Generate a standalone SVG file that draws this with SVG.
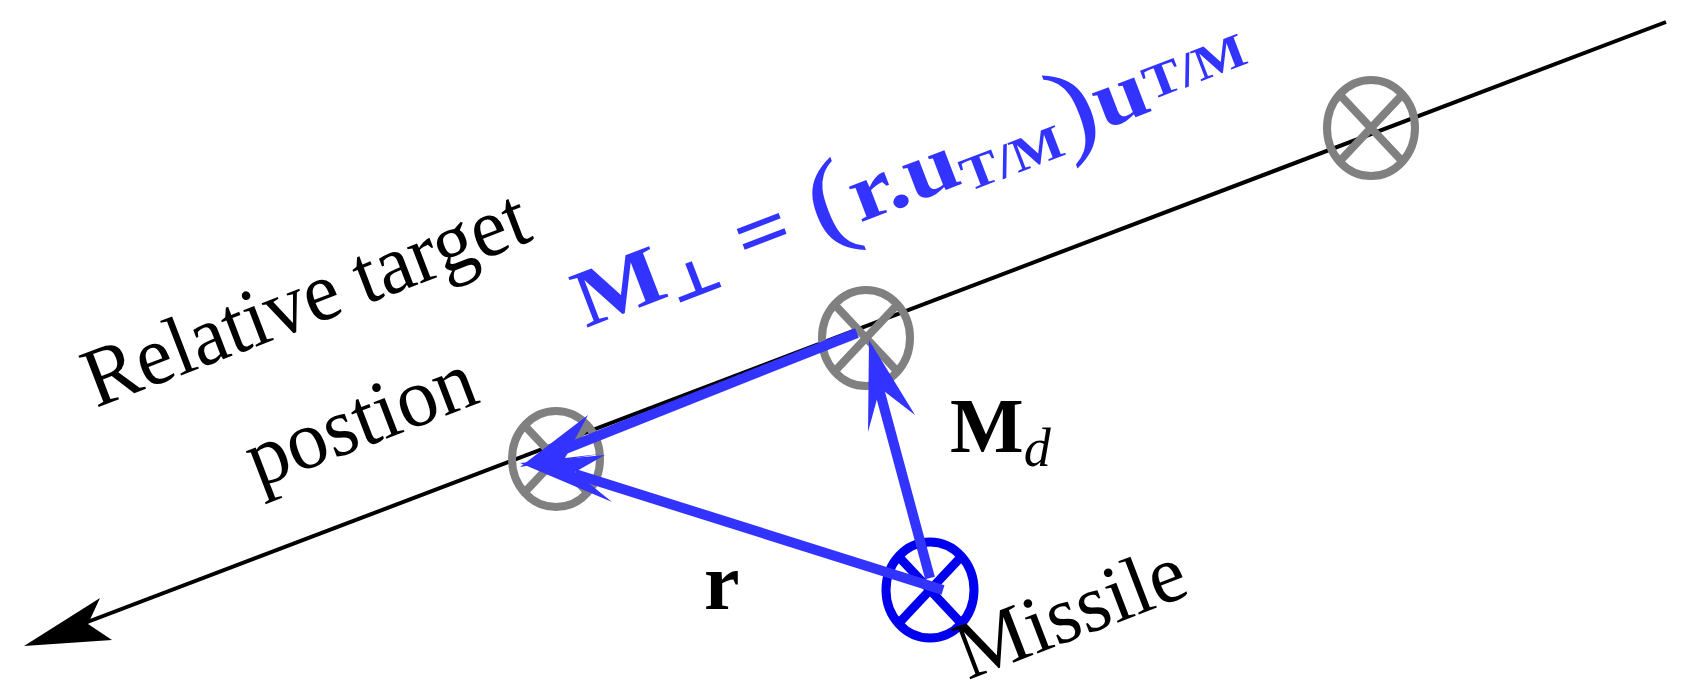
<svg xmlns="http://www.w3.org/2000/svg" width="1682" height="699" viewBox="0 0 1682 699">
<style>
.t{font-family:"Liberation Serif","DejaVu Serif",serif;fill:#000}
.f{font-family:"Liberation Serif","DejaVu Serif",serif;fill:#3333ff;font-weight:bold}
.g{fill:none;stroke:#808080;stroke-width:8}
.b{stroke:#3333ff;stroke-width:10;fill:none}
</style>
<g id="connectors">
<line x1="1666" y1="22" x2="40" y2="640" stroke="#000" stroke-width="4"/>
<path d="M24,646 L100,598 L88,624 L112,640 Z" fill="#000"/>
</g>
<g id="target3"><ellipse class="g" cx="1371" cy="128" rx="44" ry="48"/><path class="g" d="M1340,95 L1402,161 M1402,95 L1340,161"/></g>
<g id="target2"><ellipse class="g" cx="866" cy="338" rx="44" ry="48"/><path class="g" d="M835,305 L897,371 M897,305 L835,371"/></g>
<g id="target1"><ellipse class="g" cx="556" cy="459" rx="44" ry="48"/><path class="g" d="M525,426 L587,492 M587,426 L525,492"/></g>
<g id="missile"><ellipse cx="930" cy="590" rx="44" ry="48" fill="none" stroke="#0000ee" stroke-width="9"/><path d="M899,557 L961,623 M961,557 L899,623" stroke="#0000ee" stroke-width="9"/></g>
<g id="vectors">
<line class="b" x1="857" y1="333" x2="560" y2="451"/>
<path d="M520,467 L588,415 L565,458 Z M520,467 L600,454 L565,458 Z" fill="#3333ff"/>
<line class="b" x1="943" y1="590" x2="575" y2="474"/>
<path d="M520,463 L605,455 L575,472 L612,502 Z" fill="#3333ff"/>
<line class="b" x1="930" y1="578" x2="878" y2="385"/>
<path d="M869,340 L915,415 L880,388 L868,432 Z" fill="#3333ff"/>
</g>
<g id="labels">
<text class="t" font-size="84" transform="translate(96,408) rotate(-21)" textLength="470" lengthAdjust="spacingAndGlyphs">Relative target</text>
<text class="t" font-size="84" transform="translate(258,488) rotate(-21)" textLength="240" lengthAdjust="spacingAndGlyphs">postion</text>
<text class="t" font-size="82" transform="translate(968,680) rotate(-21)" textLength="240" lengthAdjust="spacingAndGlyphs">Missile</text>
<text class="t" font-size="78" font-weight="bold" x="950" y="452">M<tspan font-weight="normal" font-style="italic" font-size="54" dy="14">d</tspan></text>
<text class="t" font-size="80" font-weight="bold" x="704" y="609">r</text>
<text class="f" font-size="82" transform="translate(586,328) rotate(-21)" textLength="715" lengthAdjust="spacingAndGlyphs">M<tspan font-size="50" dy="10">⊥</tspan><tspan dy="-10"> = </tspan><tspan font-weight="normal" font-size="110" dy="4">(</tspan><tspan dy="-4">r.u</tspan><tspan font-size="48" dy="10">T/M</tspan><tspan font-weight="normal" font-size="110" dy="-6">)</tspan><tspan dy="-4">u</tspan><tspan font-size="48" dy="-10">T/M</tspan></text>
</g>
</svg>
